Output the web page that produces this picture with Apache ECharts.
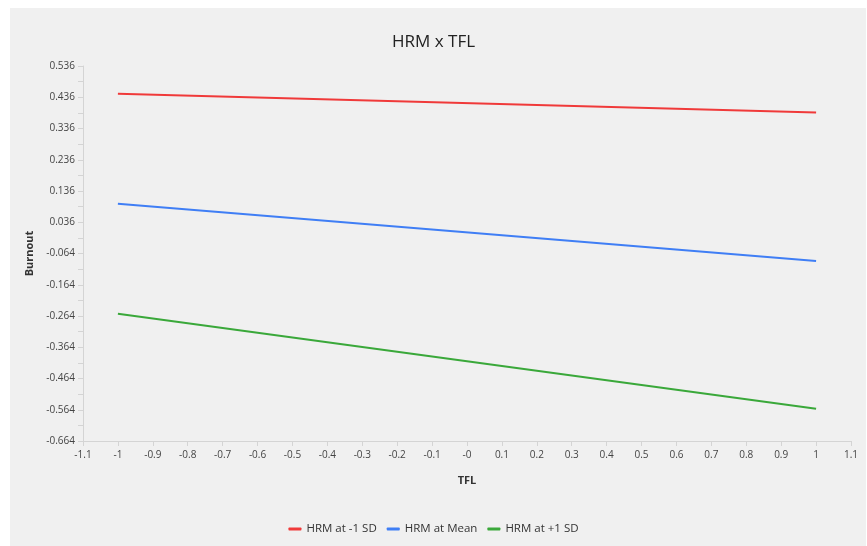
<!DOCTYPE html>
<html>
<head>
<meta charset="utf-8">
<script src="https://cdn.jsdelivr.net/npm/echarts@6/dist/echarts.min.js"></script>
<style>
html,body{margin:0;padding:0;background:#ffffff;}
#chart{width:867px;height:546px;}
</style>
</head>
<body>
<div id="chart"></div>
<script>
const seriesNames = ["HRM at -1 SD", "HRM at Mean", "HRM at +1 SD"];
const xValues = [-1, 1];
const lowSD = [0.447, 0.387];
const meanSD = [0.095, -0.088];
const highSD = [-0.257, -0.561];
const xTickLabels = ["-1.1","-1","-0.9","-0.8","-0.7","-0.6","-0.5","-0.4","-0.3","-0.2","-0.1","-0","0.1","0.2","0.3","0.4","0.5","0.6","0.7","0.8","0.9","1","1.1"];
const yTickLabels = ["-0.664","-0.564","-0.464","-0.364","-0.264","-0.164","-0.064","0.036","0.136","0.236","0.336","0.436","0.536"];
const colors = ["#f03a3a", "#3f7ef5", "#3aa83a"];

const font = "'Open Sans', 'Noto Sans', sans-serif";
const chart = echarts.init(document.getElementById('chart'));
const toPairs = arr => xValues.map((x, i) => [x, arr[i]]);

chart.setOption({
  animation: false,
  backgroundColor: 'transparent',
  graphic: [{
    type: 'rect', z: -10, silent: true,
    shape: {x: 10, y: 8, width: 856, height: 538},
    style: {fill: '#f0f0f0'}
  }],
  title: {
    text: 'HRM x TFL', left: 'center', top: 29,
    textStyle: {fontFamily: font, fontSize: 17, fontWeight: 'normal', color: '#222'}
  },
  legend: {
    bottom: 6, left: 'center', itemWidth: 13, itemHeight: 3, itemGap: 10,
    icon: 'roundRect',
    textStyle: {fontFamily: font, fontSize: 11.5, color: '#333'},
    data: seriesNames
  },
  grid: {left: 83, right: 16, top: 66, bottom: 105},
  xAxis: {
    type: 'value', min: -1.1, max: 1.1, interval: 0.1,
    name: 'TFL', nameLocation: 'middle', nameGap: 34,
    nameTextStyle: {fontFamily: font, fontSize: 11, fontWeight: 'bold', color: '#333'},
    axisLine: {show: true, onZero: false, lineStyle: {color: '#d4d4d4', width: 1}},
    axisTick: {show: true, length: 5, lineStyle: {color: '#d4d4d4'}},
    splitLine: {show: false},
    axisLabel: {
      fontFamily: font, fontSize: 10, color: '#444', margin: 9,
      formatter: v => xTickLabels[Math.round((v + 1.1) / 0.1)]
    }
  },
  yAxis: {
    type: 'value', min: -0.664, max: 0.536, interval: 0.1,
    name: 'Burnout', nameLocation: 'middle', nameGap: 48, nameMoveOverlap: false,
    nameTextStyle: {fontFamily: font, fontSize: 11, fontWeight: 'bold', color: '#333'},
    axisLine: {show: true, onZero: false, lineStyle: {color: '#d4d4d4', width: 1}},
    axisTick: {show: true, length: 5, lineStyle: {color: '#d4d4d4'}},
    minorTick: {show: true, splitNumber: 2, length: 5, lineStyle: {color: '#d4d4d4'}},
    splitLine: {show: false},
    axisLabel: {
      fontFamily: font, fontSize: 10, color: '#444', margin: 8,
      formatter: v => yTickLabels[Math.round((v + 0.664) / 0.1)]
    }
  },
  series: [lowSD, meanSD, highSD].map((arr, i) => ({
    name: seriesNames[i], type: 'line', data: toPairs(arr),
    symbol: 'none', color: colors[i],
    lineStyle: {width: 2, color: colors[i]}
  }))
});
</script>
</body>
</html>
